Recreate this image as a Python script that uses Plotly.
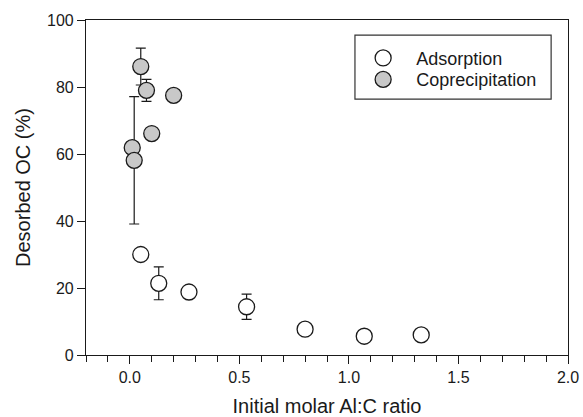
import plotly.graph_objects as go

# Adsorption series
ads_x = [0.05, 0.132, 0.27, 0.533, 0.80, 1.07, 1.33]
ads_y = [30.0, 21.4, 18.8, 14.4, 7.7, 5.6, 6.0]
ads_err = [0, 4.9, 0, 3.75, 0, 0, 0]

# Coprecipitation series
cop_x = [0.011, 0.02, 0.05, 0.076, 0.10, 0.20]
cop_y = [61.9, 58.1, 86.1, 79.0, 66.1, 77.5]
cop_err = [0, 19.0, 5.5, 3.3, 0, 0]

x_ticks = [0.0, 0.5, 1.0, 1.5, 2.0]
y_ticks = [0, 20, 40, 60, 80, 100]

FONT = "Liberation Sans, Arial, sans-serif"
INK = "#1a1a1a"

fig = go.Figure()
fig.add_trace(go.Scatter(
    x=ads_x, y=ads_y, mode="markers", name="Adsorption", legend="legend",
    error_y=dict(type="data", array=ads_err, visible=True, color=INK, thickness=1.2, width=5),
    marker=dict(size=16, color="white", line=dict(color=INK, width=1.3)),
))
fig.add_trace(go.Scatter(
    x=cop_x, y=cop_y, mode="markers", name="Coprecipitation", legend="legend2",
    error_y=dict(type="data", array=cop_err, visible=True, color=INK, thickness=1.2, width=5),
    marker=dict(size=16, color="#c8c8c8", line=dict(color=INK, width=1.3)),
))

leg_common = dict(
    xanchor="left", yanchor="top",
    bgcolor="rgba(0,0,0,0)", borderwidth=0,
    font=dict(size=18, family=FONT, color=INK),
    itemwidth=56,
)

fig.update_layout(
    width=583, height=417,
    margin=dict(l=86, r=15, t=20, b=62, autoexpand=False),
    paper_bgcolor="white", plot_bgcolor="white",
    font=dict(family=FONT, color=INK, size=16),
    showlegend=True,
    legend=dict(x=0.548, y=0.941, **leg_common),
    legend2=dict(x=0.548, y=0.877, **leg_common),
    shapes=[dict(type="rect", xref="paper", yref="paper",
                 x0=0.558, x1=0.965, y0=0.764, y1=0.955,
                 line=dict(color="#333333", width=1.2), fillcolor="rgba(0,0,0,0)")],
)
fig.update_xaxes(
    range=[-0.2, 2.0], tickvals=x_ticks, ticktext=["0.0", "0.5", "1.0", "1.5", "2.0"],
    ticks="outside", ticklen=8, tickwidth=1.2, tickcolor=INK,
    minor=dict(dtick=0.1, tick0=0, ticks="outside", ticklen=6, tickwidth=1.2, tickcolor=INK, showgrid=False),
    showline=True, linecolor=INK, linewidth=1.2, mirror=True,
    showgrid=False, zeroline=False, automargin=False,
    tickfont=dict(size=16),
    title=dict(text="Initial molar Al:C ratio", font=dict(size=20), standoff=18),
)
fig.update_yaxes(
    range=[0, 100], tickvals=y_ticks,
    ticks="outside", ticklen=8, tickwidth=1.2, tickcolor=INK,
    showline=True, linecolor=INK, linewidth=1.2, mirror=True,
    showgrid=False, zeroline=False, automargin=False,
    tickfont=dict(size=16),
    title=dict(text="Desorbed OC (%)", font=dict(size=20), standoff=10),
)
fig.write_html("out.html")
